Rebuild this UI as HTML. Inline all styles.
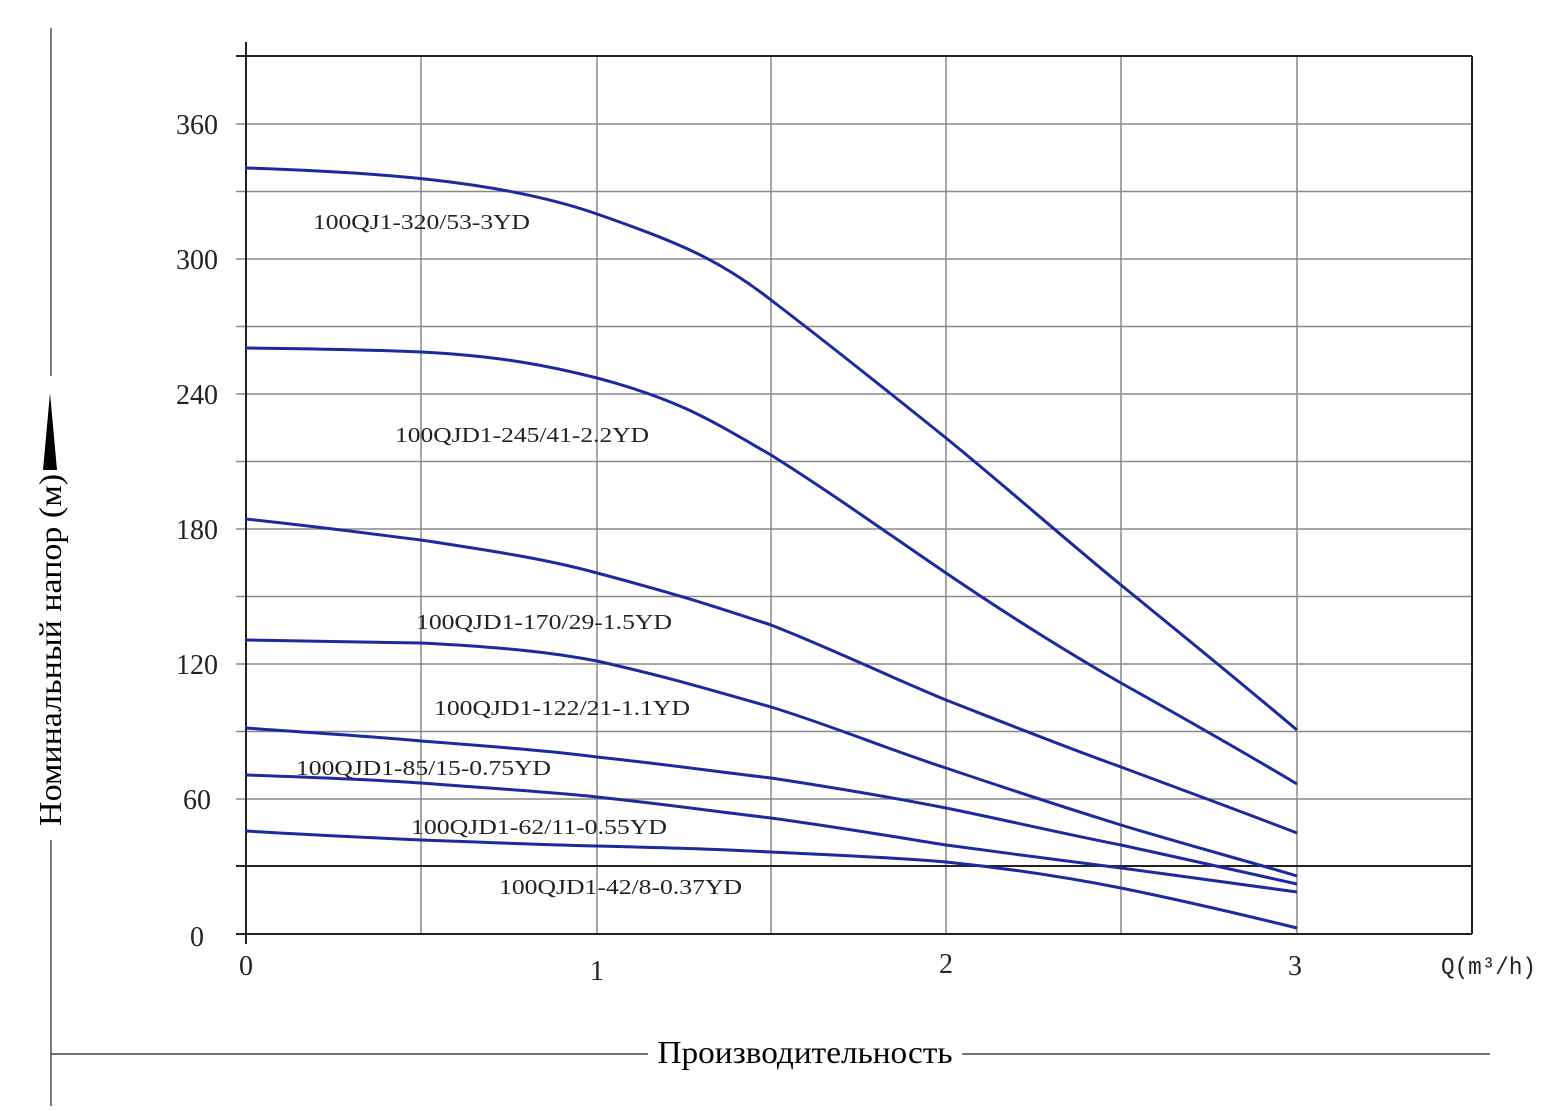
<!DOCTYPE html>
<html><head><meta charset="utf-8"><style>
body{margin:0;background:#fff;width:1564px;height:1106px;overflow:hidden}
svg text{font-family:"Liberation Serif",serif}
</style></head><body>
<svg width="1564" height="1106" xmlns="http://www.w3.org/2000/svg">
<g stroke="#888" stroke-width="1.5">
<line x1="421" y1="56" x2="421" y2="934"/><line x1="597" y1="56" x2="597" y2="934"/>
<line x1="771" y1="56" x2="771" y2="934"/><line x1="946" y1="56" x2="946" y2="934"/>
<line x1="1121" y1="56" x2="1121" y2="934"/><line x1="1297" y1="56" x2="1297" y2="934"/>
<line x1="236" y1="124" x2="1472" y2="124"/><line x1="236" y1="191.5" x2="1472" y2="191.5"/>
<line x1="236" y1="259" x2="1472" y2="259"/><line x1="236" y1="326.5" x2="1472" y2="326.5"/>
<line x1="236" y1="394" x2="1472" y2="394"/><line x1="236" y1="461.5" x2="1472" y2="461.5"/>
<line x1="236" y1="529" x2="1472" y2="529"/><line x1="236" y1="596.5" x2="1472" y2="596.5"/>
<line x1="236" y1="664" x2="1472" y2="664"/><line x1="236" y1="731.5" x2="1472" y2="731.5"/>
<line x1="236" y1="799" x2="1472" y2="799"/>
</g>
<g stroke="#222" stroke-width="2" fill="none">
<line x1="246" y1="42" x2="246" y2="944"/>
<line x1="236" y1="934" x2="1472" y2="934"/>
<line x1="236" y1="56" x2="1472" y2="56"/>
<line x1="1472" y1="56" x2="1472" y2="934"/>
<line x1="236" y1="866" x2="1472" y2="866"/>
</g>
<g stroke="#1c2aa0" stroke-width="3" fill="none" stroke-linejoin="round">
<path d="M246,168 C370,172 500,180 597,214 C680,243 720,260 771,300 C830,345 890,393 946,438 C1005,486 1060,535 1121,585 C1180,633 1240,682 1297,730"/>
<path d="M246,348 C330,349 380,350 421,352 C500,356 550,366 597,378 C680,400 710,420 771,455 C830,492 890,535 946,573 C1005,613 1060,648 1121,683 C1180,716 1240,750 1297,784"/>
<path d="M246,519 C330,528 380,535 421,540 C500,552 550,560 597,573 C680,595 710,605 771,625 C830,648 890,677 946,700 C1005,723 1060,745 1121,767 C1180,789 1240,811 1297,833"/>
<path d="M246,640 C330,641 380,642 421,643 C500,647 550,652 597,661 C680,680 710,690 771,707 C830,725 890,750 946,768 C1005,788 1060,806 1121,825 C1180,843 1240,859 1297,876"/>
<path d="M246,728 C330,734 380,737 421,741 C500,747 550,751 597,757 C680,766 710,771 771,778 C830,787 890,797 946,808 C1005,820 1060,833 1121,845 C1180,858 1240,871 1297,884"/>
<path d="M246,775 C330,778 380,780 421,783 C500,789 550,792 597,797 C680,806 710,811 771,818 C830,826 890,836 946,845 C1005,853 1060,860 1121,868 C1180,876 1240,884 1297,892"/>
<path d="M246,831 C330,836 380,838 421,840 C500,843 550,845 597,846 C680,848 710,849 771,852 C830,855 890,857 946,862 C1005,868 1060,876 1121,888 C1180,900 1240,914 1297,928"/>
</g>
<g font-size="28" fill="#222" text-anchor="middle">
<text x="197" y="134">360</text><text x="197" y="269">300</text><text x="197" y="404">240</text>
<text x="197" y="539">180</text><text x="197" y="674">120</text><text x="197" y="809">60</text>
<text x="197" y="946">0</text>
<text x="246" y="975">0</text><text x="597" y="980">1</text><text x="946" y="973">2</text><text x="1295" y="975">3</text>
</g>
<text x="1441" y="974" font-size="24" fill="#222" style="font-family:'Liberation Mono',monospace" textLength="95" lengthAdjust="spacingAndGlyphs">Q(m³/h)</text>
<g font-size="21" fill="#222" style="font-family:'Liberation Mono',monospace" lengthAdjust="spacingAndGlyphs">
<text x="313" y="229" textLength="217" lengthAdjust="spacingAndGlyphs">100QJ1-320/53-3YD</text>
<text x="395" y="442" textLength="254" lengthAdjust="spacingAndGlyphs">100QJD1-245/41-2.2YD</text>
<text x="416" y="629" textLength="256" lengthAdjust="spacingAndGlyphs">100QJD1-170/29-1.5YD</text>
<text x="434" y="715" textLength="256" lengthAdjust="spacingAndGlyphs">100QJD1-122/21-1.1YD</text>
<text x="296" y="775" textLength="255" lengthAdjust="spacingAndGlyphs">100QJD1-85/15-0.75YD</text>
<text x="411" y="834" textLength="256" lengthAdjust="spacingAndGlyphs">100QJD1-62/11-0.55YD</text>
<text x="499" y="894" textLength="243" lengthAdjust="spacingAndGlyphs">100QJD1-42/8-0.37YD</text>
</g>
<g stroke="#222" stroke-width="1.2">
<line x1="51" y1="28" x2="51" y2="376"/><line x1="51" y1="840" x2="51" y2="1106"/>
<line x1="51" y1="1054" x2="648" y2="1054"/><line x1="962" y1="1054" x2="1490" y2="1054"/>
</g>
<polygon points="50,393 43,470 57,470" fill="#000"/>
<text x="0" y="0" font-size="32" fill="#000" text-anchor="middle" transform="translate(61,650) rotate(-90)" textLength="352" lengthAdjust="spacingAndGlyphs">Номинальный напор (м)</text>
<text x="805" y="1063" font-size="32" fill="#000" text-anchor="middle" textLength="295" lengthAdjust="spacingAndGlyphs">Производительность</text>
</svg>
</body></html>
